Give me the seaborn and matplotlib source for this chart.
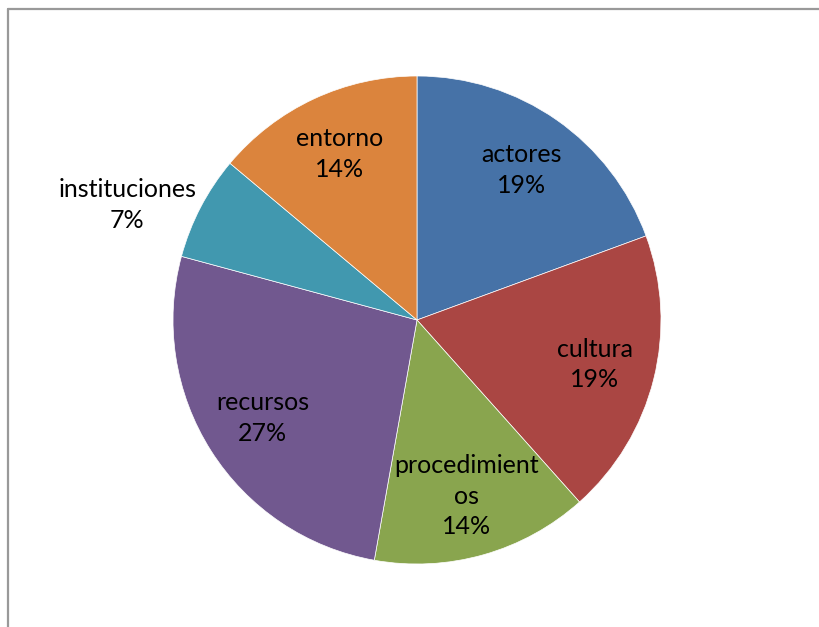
import numpy as np
import matplotlib
matplotlib.use('Agg')
import matplotlib.pyplot as plt
from matplotlib.lines import Line2D
import seaborn as sns

categories = ['actores', 'cultura', 'procedimientos', 'recursos', 'instituciones', 'entorno']
label_text = ['actores', 'cultura', 'procedimient\nos', 'recursos', 'instituciones', 'entorno']
# shares; the labels are the rounded values printed on the chart
values = [19.4, 19.0, 14.4, 26.4, 6.9, 13.9]
pct_labels = ['19%', '19%', '14%', '27%', '7%', '14%']
colors = ['#4672A7', '#AA4643', '#89A54E', '#71588F', '#4198AF', '#DB843D']
outside = ['instituciones']

sns.set_theme(style='white')
plt.rcParams['font.family'] = ['Lato', 'DejaVu Sans']

W, H = 819, 627
fig = plt.figure(figsize=(W / 100, H / 100), dpi=100)
fig.patch.set_facecolor('white')

# pie area: center (417, 320) px, radius 244 px
cx, cy, r = 417, 320, 244
ax = fig.add_axes([(cx - r) / W, (H - cy - r) / H, 2 * r / W, 2 * r / H])

palette = sns.color_palette(colors)
wedges, _ = ax.pie(values, colors=palette, startangle=90, counterclock=False,
                   wedgeprops=dict(edgecolor='white', linewidth=0.5))
ax.set_xlim(-1, 1)
ax.set_ylim(-1, 1)
ax.set_aspect('equal')
ax.axis('off')

for w, name, txt, pct in zip(wedges, categories, label_text, pct_labels):
    mid = np.deg2rad((w.theta1 + w.theta2) / 2)
    s = f'{txt}\n{pct}'
    if name in outside:
        ax.text(1.02 * np.cos(mid), 1.02 * np.sin(mid), s, ha='right', va='center',
                multialignment='center', fontsize=18, linespacing=1.4, color='black')
    else:
        ax.text(0.75 * np.cos(mid), 0.75 * np.sin(mid), s, ha='center', va='center',
                multialignment='center', fontsize=18, linespacing=1.4, color='black')

# chart border (only top and left visible)
fig.add_artist(Line2D([7.5 / W, 7.5 / W], [0, 1 - 8.5 / H], color='#999999', lw=1.6))
fig.add_artist(Line2D([7.5 / W, 1], [1 - 8.5 / H, 1 - 8.5 / H], color='#999999', lw=1.6))

fig.savefig('out.png', dpi=100, facecolor='white')
